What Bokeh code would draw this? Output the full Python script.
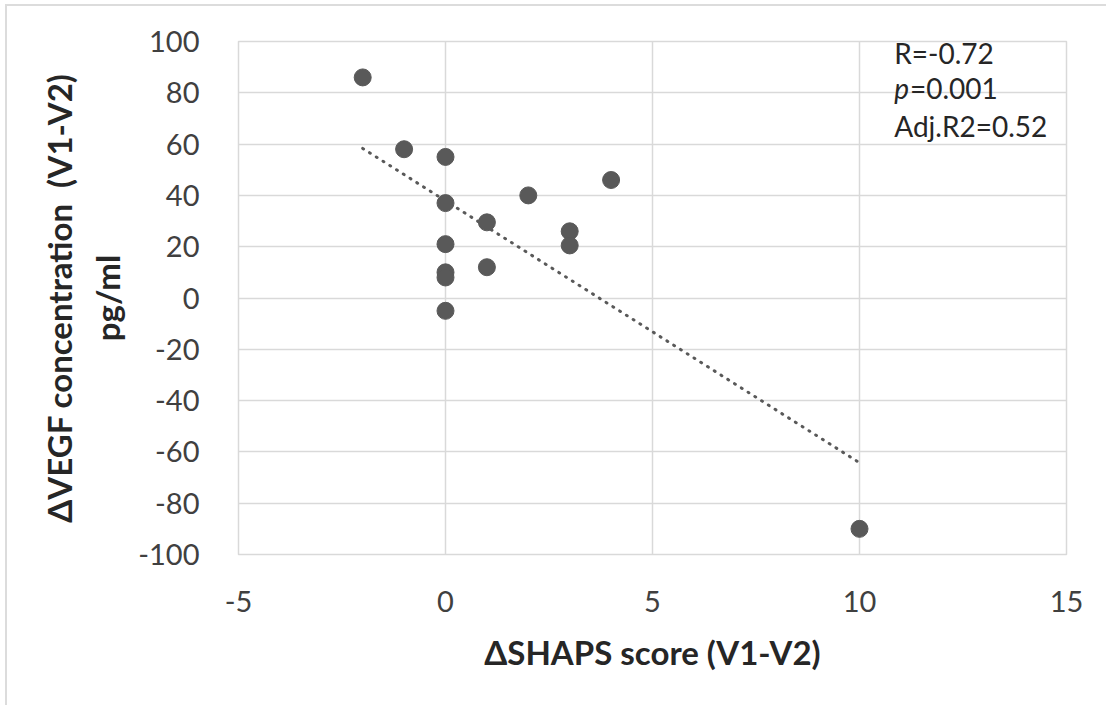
import numpy as np
from bokeh.plotting import figure
from bokeh.models import Label, FixedTicker, Range1d, PrintfTickFormatter, InlineStyleSheet
from bokeh.embed import file_html
from bokeh.resources import INLINE

# Data
shaps_delta = [-2, -1, 0, 0, 0, 0, 0, 0, 1, 1, 2, 3, 3, 4, 10]
vegf_delta = [86, 58, 55, 37, 21, 10, 8, -5, 29.5, 12, 40, 26, 20.5, 46, -90]
x_ticks = [-5, 0, 5, 10, 15]
y_ticks = [-100, -80, -60, -40, -20, 0, 20, 40, 60, 80, 100]
stats_lines = ["R=-0.72", "=0.001", "Adj.R2=0.52"]

FONT = "Lato"
GRID = "#d9d9d9"
DOT = "#595959"

# chart-area border (only top and left edges are visible in the reference)
border_css = InlineStyleSheet(css="""
:host::before {
  content: ""; position: absolute; left: 5px; top: 4px; right: 0px; height: 2px;
  background: #dcdcdc; pointer-events: none; z-index: 5;
}
:host::after {
  content: ""; position: absolute; left: 5px; top: 4px; width: 2px; bottom: 0px;
  background: #dcdcdc; pointer-events: none; z-index: 5;
}
""")

W, H = 1106, 705
p = figure(width=W, height=H, output_backend="svg", toolbar_location=None,
           x_range=Range1d(-5, 15), y_range=Range1d(-100, 100),
           min_border_left=238, min_border_right=W - 1066, min_border_top=41,
           min_border_bottom=H - 554, stylesheets=[border_css])
p.background_fill_color = "white"
p.border_fill_color = "white"
p.outline_line_color = GRID
p.outline_line_width = 1.5

for ax in (p.xaxis[0], p.yaxis[0]):
    ax.axis_line_color = None
    ax.major_tick_line_color = None
    ax.minor_tick_line_color = None
    ax.major_label_text_font = FONT
    ax.major_label_text_font_size = "29px"
    ax.major_label_text_color = "#404040"
    ax.axis_label_text_font = FONT
    ax.axis_label_text_font_size = "33px"
    ax.axis_label_text_font_style = "bold"
    ax.axis_label_text_color = "#262626"
    ax.formatter = PrintfTickFormatter(format="%d")

p.xaxis.ticker = FixedTicker(ticks=x_ticks)
p.yaxis.ticker = FixedTicker(ticks=y_ticks)
p.xaxis.major_label_standoff = 30
p.yaxis.major_label_standoff = 33
p.xaxis.axis_label = "\u0394SHAPS score (V1-V2)"
p.yaxis.axis_label = "\u0394VEGF concentration \u00a0(V1-V2)\npg/ml"
p.xaxis.axis_label_standoff = 17
p.yaxis.axis_label_standoff = 8

p.xgrid.ticker = FixedTicker(ticks=x_ticks)
p.ygrid.ticker = FixedTicker(ticks=y_ticks)
p.grid.grid_line_color = GRID
p.grid.grid_line_width = 1.5

# trend line from least squares fit
xs = np.array(shaps_delta, dtype=float)
ys = np.array(vegf_delta, dtype=float)
slope, intercept = np.polyfit(xs, ys, 1)
tx = np.array([xs.min(), xs.max()])
p.line(tx, slope * tx + intercept, line_color=DOT, line_width=3,
       line_dash="1 7", line_cap="round")

p.scatter(shaps_delta, vegf_delta, size=17, fill_color=DOT, line_color=DOT)

# stats annotation
lx = 10.84
kw = dict(text_font=FONT, text_font_size="28px", text_color="#262626",
          text_baseline="alphabetic")
p.add_layout(Label(x=lx, y=95.6, text=stats_lines[0], **kw))
p.add_layout(Label(x=lx, y=81.9, text="p", text_font_style="italic", **kw))
p.add_layout(Label(x=lx + 0.38, y=81.9, text=stats_lines[1], **kw))
p.add_layout(Label(x=lx, y=66.9, text=stats_lines[2], **kw))

open("out.html", "w").write(file_html(p, INLINE))
